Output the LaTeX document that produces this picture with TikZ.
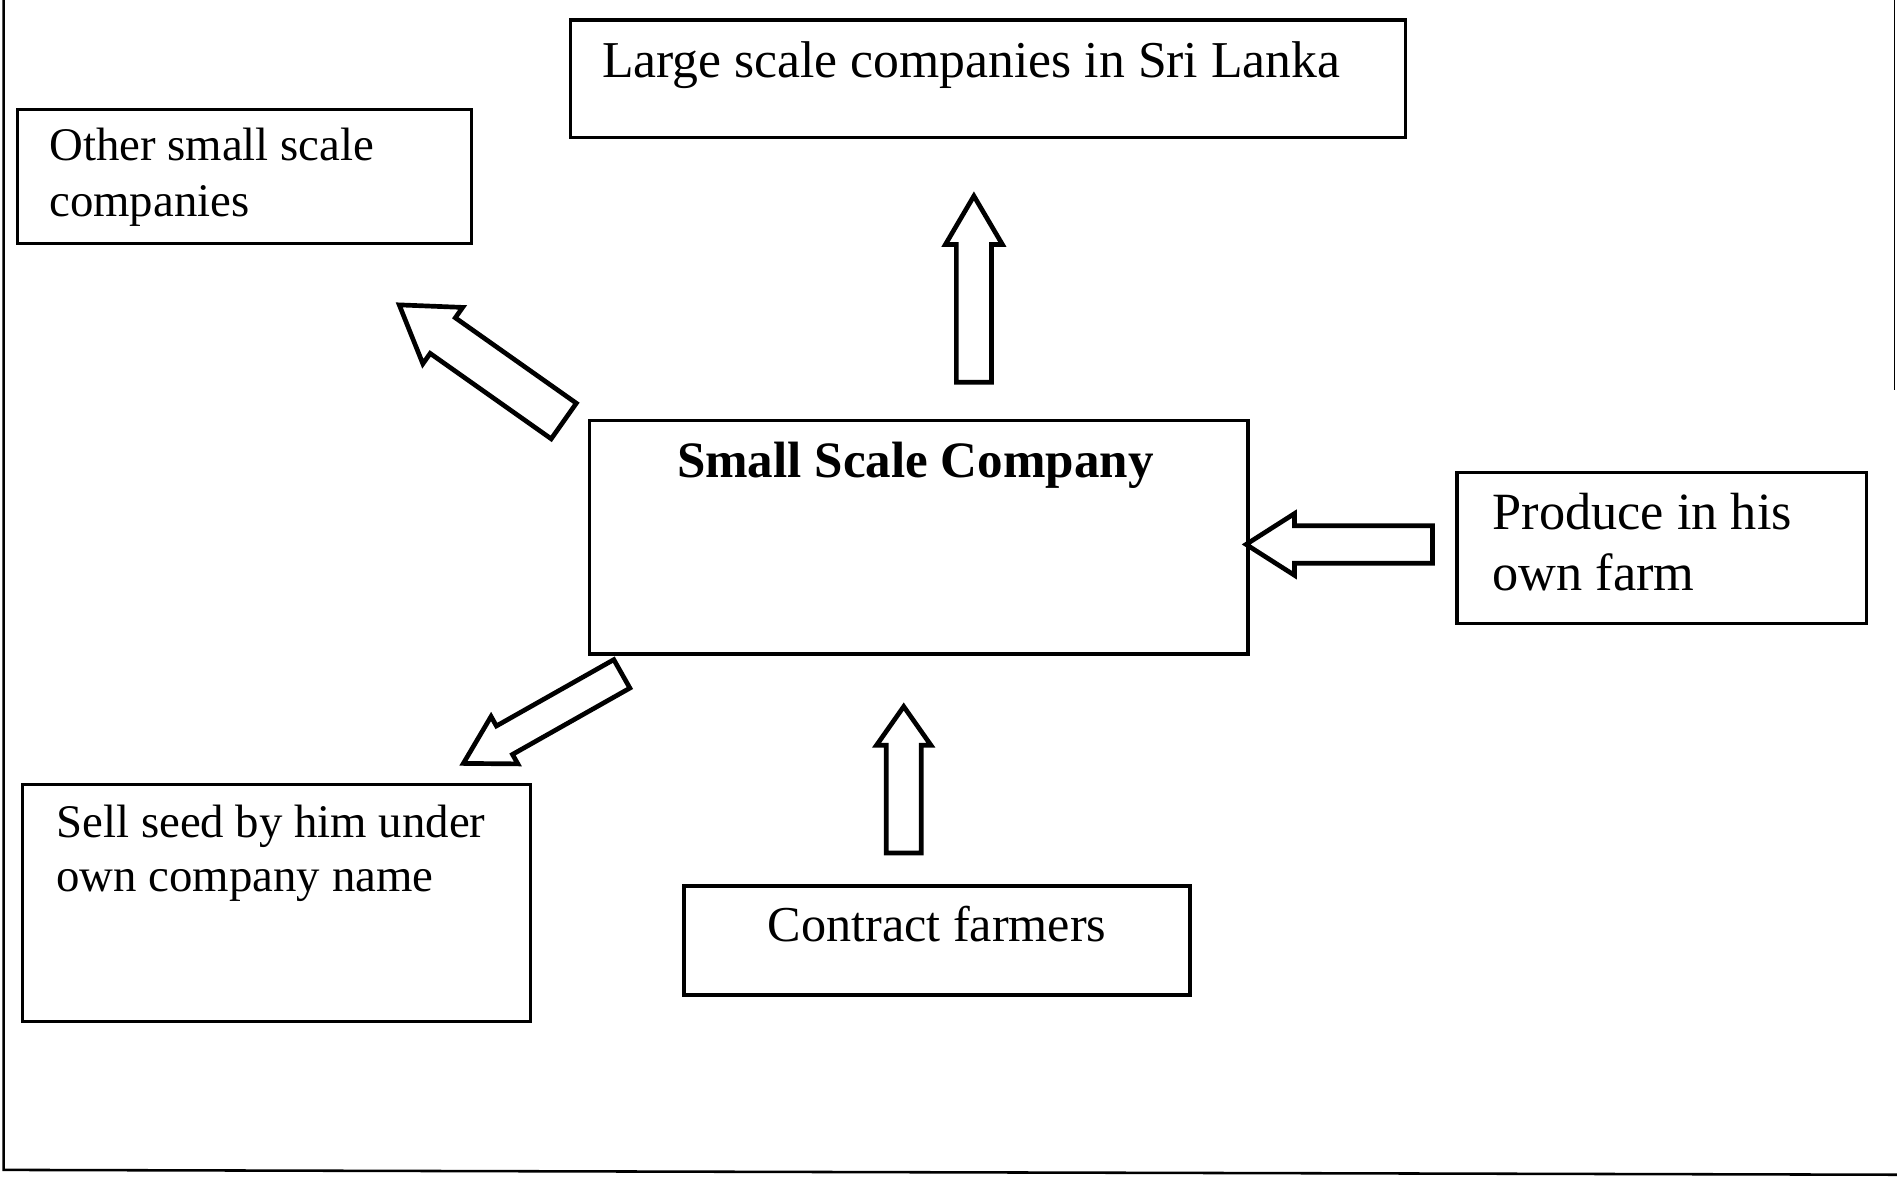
\documentclass[tikz,border=0pt]{standalone}
\usepackage{fontspec}
\setmainfont{Liberation Serif}
\usetikzlibrary{calc}

% hollow block arrow: tail, tip, half shaft, half head, head length
\newcommand{\fatarrow}[5]{%
  \coordinate (hb) at ($(#2)!#5!(#1)$);
  \draw[fatline] ($(#1)!#3!90:(#2)$)--($(hb)!#3!-90:(#1)$)--($(hb)!#4!-90:(#1)$)--(#2)
    --($(hb)!#4!90:(#1)$)--($(hb)!#3!90:(#1)$)--($(#1)!#3!-90:(#2)$)--cycle;}

\begin{document}
\begin{tikzpicture}[x=0.01cm,y=-0.01cm,
  box/.style={draw,line width=0.8pt,anchor=north west,inner sep=0pt},
  txt/.style={inner sep=0pt,anchor=base west,align=left},
  fatline/.style={fill=white,line width=1.1pt,line join=miter}]
\useasboundingbox (0,0) rectangle (1568,975);
% page frame
\draw[line width=0.6pt] (3,0)--(3,967)--(1568,971);
\draw[line width=0.4pt] (1566,0)--(1566,322);

% boxes
\node[box,minimum width=6.9cm,minimum height=0.97cm] (large) at (470,15) {};
\node[box,minimum width=3.75cm,minimum height=1.11cm] (other) at (13,89) {};
\node[box,minimum width=5.44cm,minimum height=1.93cm] (ssc) at (486,346) {};
\node[box,minimum width=3.38cm,minimum height=1.25cm] (produce) at (1203,389) {};
\node[box,minimum width=4.2cm,minimum height=1.96cm] (sell) at (17,647) {};
\node[box,minimum width=4.18cm,minimum height=0.9cm] (contract) at (564,731) {};

% texts (base of a two-line text is its last line)
\node[txt,font=\fontsize{12.15}{14}\selectfont] (largetxt) at ($(large.north west)+(27,49)$)
  {Large scale companies in Sri Lanka};
\node[txt,font=\fontsize{11}{13.1}\selectfont] (othertxt) at ($(other.north west)+(27,90)$)
  {Other small scale\\companies};
\node[txt,anchor=base,font=\fontsize{12}{14}\selectfont\bfseries] (ssctxt) at ($(ssc.north)+(-3,49)$)
  {Small Scale Company};
\node[txt,font=\fontsize{12.3}{14.2}\selectfont] (producetxt) at ($(produce.north west)+(30,99)$)
  {Produce in his\\own farm};
\node[txt,font=\fontsize{11}{12.8}\selectfont] (selltxt) at ($(sell.north west)+(29,90)$)
  {Sell seed by him under\\own company name};
\node[txt,anchor=base,font=\fontsize{11.8}{14}\selectfont] (contracttxt) at ($(contract.north)+(0,47)$)
  {Contract farmers};

% arrows
\coordinate (upT) at (805,316);  \coordinate (upP) at (805,162);
\coordinate (inT) at (747,705);  \coordinate (inP) at (747,584);
\coordinate (farmT) at (1184,450); \coordinate (farmP) at (1030,450);
\coordinate (otherT) at (466,348); \coordinate (otherP) at (330,252);
\coordinate (sellT) at (514,557);  \coordinate (sellP) at (383,631);
\fatarrow{upT}{upP}{0.145cm}{0.235cm}{0.40cm}
\fatarrow{inT}{inP}{0.145cm}{0.225cm}{0.32cm}
\fatarrow{farmT}{farmP}{0.155cm}{0.255cm}{0.40cm}
\fatarrow{otherT}{otherP}{0.18cm}{0.285cm}{0.44cm}
\fatarrow{sellT}{sellP}{0.135cm}{0.225cm}{0.39cm}
\end{tikzpicture}
\end{document}
